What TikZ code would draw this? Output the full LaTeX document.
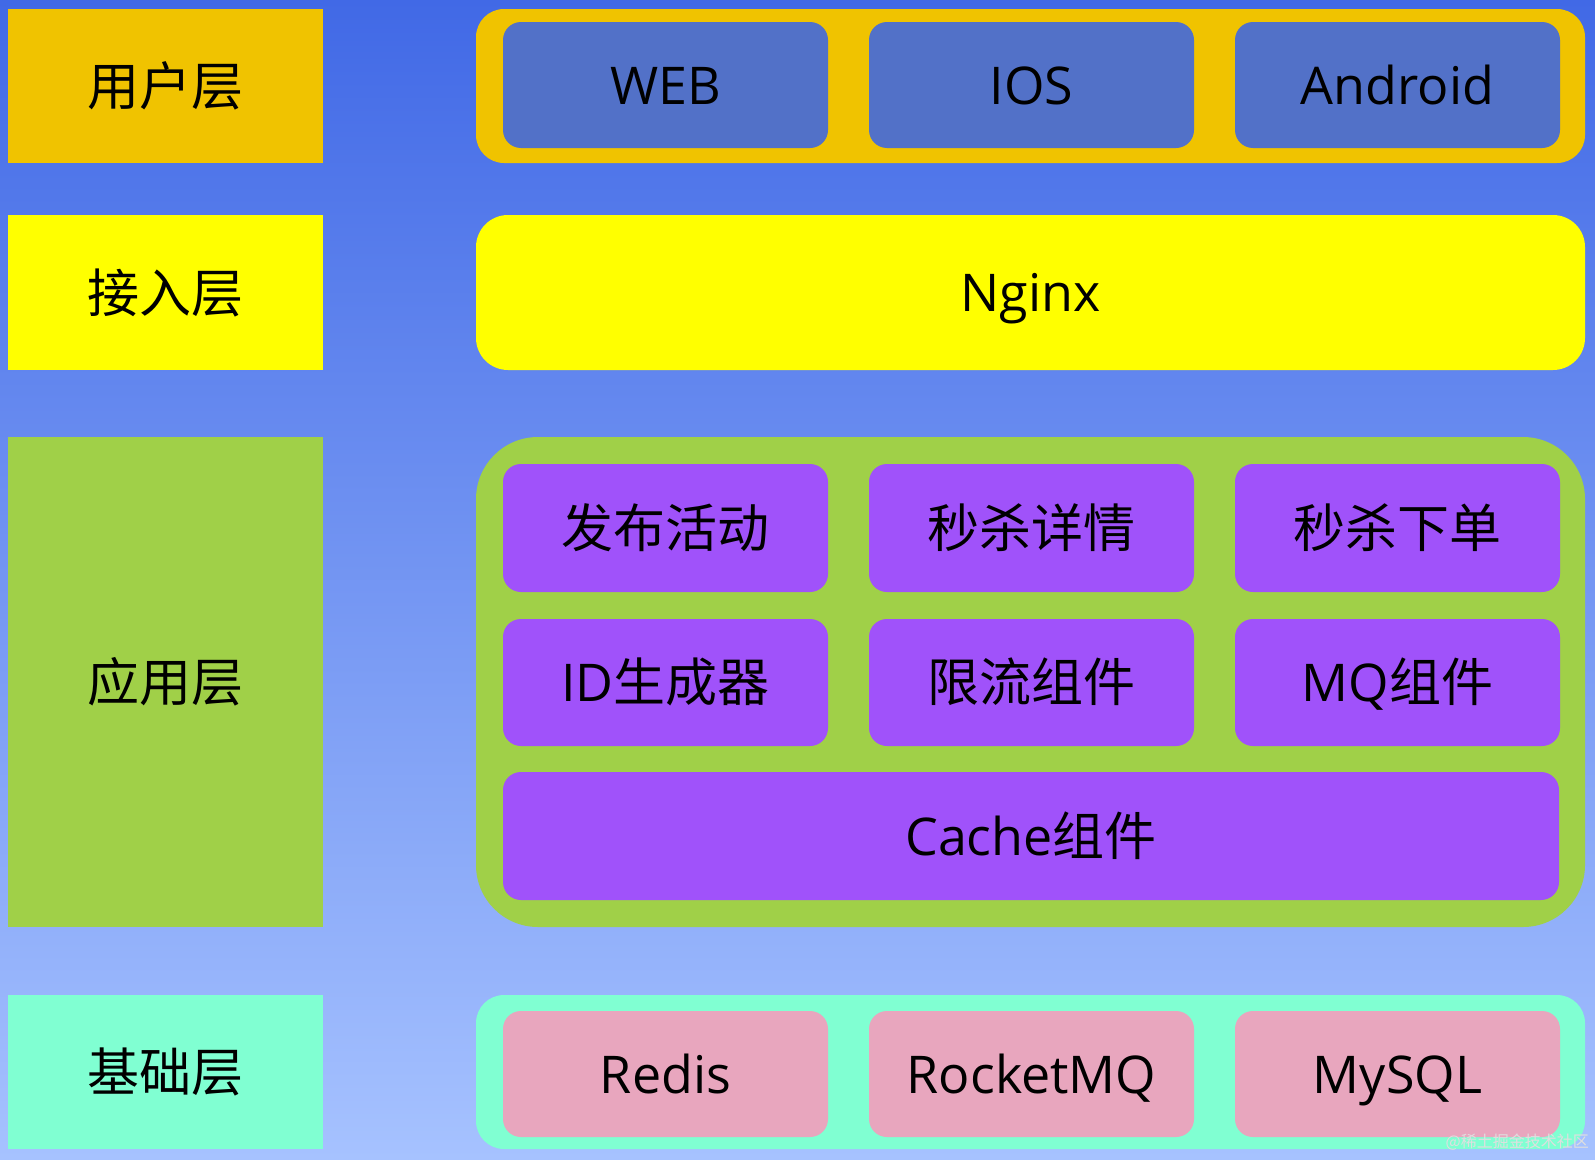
\documentclass[tikz,border=0pt]{standalone}
\usepackage{fontspec}
\setmainfont{Open Sans}
\newfontfamily\cjk{Noto Sans CJK SC}
\definecolor{bgtop}{HTML}{4169E6}
\definecolor{bgbot}{HTML}{A6C2FF}
\definecolor{userc}{HTML}{F0C300}
\definecolor{userin}{HTML}{5271C8}
\definecolor{nginxc}{HTML}{FFFF00}
\definecolor{appc}{HTML}{A0D048}
\definecolor{appin}{HTML}{A052FA}
\definecolor{basec}{HTML}{80FFD2}
\definecolor{basein}{HTML}{E8A6BE}
\newcommand{\bigtxt}{\fontsize{52}{60}\selectfont}
\newcommand{\bigcjk}{\cjk\fontsize{52}{60}\selectfont}
\tikzset{
  lab/.style={inner sep=0pt, minimum width=315pt, font=\bigcjk, text=black},
  cont/.style={inner sep=0pt, minimum width=1109pt, rounded corners=28pt},
  inbox/.style={inner sep=0pt, minimum width=325pt, rounded corners=18pt, font=\bigtxt, text=black, text height=44pt, text depth=6pt},
}
\begin{document}
\begin{tikzpicture}[x=1pt,y=-1pt]
\useasboundingbox (0,0) rectangle (1595,1159);
\fill[top color=bgtop, bottom color=bgbot] (0,0) rectangle (1595,1159);
% left labels
\node[lab, fill=userc, minimum height=154pt] (luser) at (165.5,86) {用户层};
\node[lab, fill=nginxc, minimum height=155pt] (lacc) at (165.5,292.5) {接入层};
\node[lab, fill=appc, minimum height=490pt] (lapp) at (165.5,682) {应用层};
\node[lab, fill=basec, minimum height=154pt] (lbase) at (165.5,1072) {基础层};
% containers
\node[cont, fill=userc, minimum height=154pt] (cuser) at (1030.5,86) {};
\node[cont, fill=nginxc, minimum height=155pt, rounded corners=32pt, font=\bigtxt, text height=44pt, text depth=6pt] (cacc) at (1030.5,292.5) {Nginx};
\node[cont, fill=appc, minimum height=490pt, rounded corners=62pt] (capp) at (1030.5,682) {};
\node[cont, fill=basec, minimum height=154pt] (cbase) at (1030.5,1072) {};
% user row
\node[inbox, fill=userin, minimum height=126pt] (web) at (665.5,85) {WEB};
\node[inbox, fill=userin, minimum height=126pt] (ios) at (1031.5,85) {IOS};
\node[inbox, fill=userin, minimum height=126pt] (android) at (1397.5,85) {Android};
% app rows
\node[inbox, fill=appin, minimum height=128pt, font=\bigcjk] (pub) at (665.5,528) {发布活动};
\node[inbox, fill=appin, minimum height=128pt, font=\bigcjk] (detail) at (1031.5,528) {秒杀详情};
\node[inbox, fill=appin, minimum height=128pt, font=\bigcjk] (order) at (1397.5,528) {秒杀下单};
\node[inbox, fill=appin, minimum height=127pt] (idgen) at (665.5,682.5) {ID{\bigcjk 生成器}};
\node[inbox, fill=appin, minimum height=127pt, font=\bigcjk] (limit) at (1031.5,682.5) {限流组件};
\node[inbox, fill=appin, minimum height=127pt] (mq) at (1397.5,682.5) {MQ{\bigcjk 组件}};
\node[inbox, fill=appin, minimum height=128pt, minimum width=1056pt] (cache) at (1031,836) {Cache{\bigcjk 组件}};
% base row
\node[inbox, fill=basein, minimum height=126pt] (redis) at (665.5,1074) {Redis};
\node[inbox, fill=basein, minimum height=126pt] (rocket) at (1031.5,1074) {RocketMQ};
\node[inbox, fill=basein, minimum height=126pt] (mysql) at (1397.5,1074) {MySQL};
% watermark
\node[anchor=east, inner sep=0pt, text=white!75!gray, font=\cjk\fontsize{16}{18}\selectfont] (wm) at (1589,1142) {@稀土掘金技术社区};
\end{tikzpicture}
\end{document}
